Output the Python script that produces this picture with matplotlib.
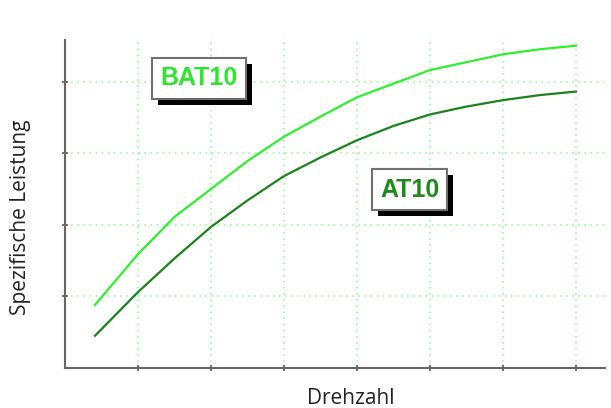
import matplotlib
matplotlib.use("Agg")
import matplotlib.pyplot as plt
import matplotlib.patheffects as pe

# Data
x_vals = [0.41, 1.0, 1.5, 2.0, 2.5, 3.0, 3.5, 4.0, 4.5, 5.0, 5.5, 6.0, 6.5, 7.0]
bat10 = [0.88, 1.59, 2.11, 2.50, 2.89, 3.23, 3.51, 3.78, 3.97, 4.16, 4.27, 4.38, 4.45, 4.50]
at10 = [0.45, 1.06, 1.53, 1.97, 2.34, 2.68, 2.94, 3.18, 3.38, 3.54, 3.65, 3.74, 3.81, 3.86]
x_ticks = [1, 2, 3, 4, 5, 6, 7]
y_ticks = [1, 2, 3, 4]
series_names = ["BAT10", "AT10"]
x_label = "Drehzahl"
y_label = "Spezifische Leistung"

fig = plt.figure(figsize=(6.11, 4.08), dpi=100)
ax = fig.add_axes([0.1064, 0.098, 0.884, 0.804])
ax.set_xlim(0, 7.4)
ax.set_ylim(0, 4.58)

ax.set_xticks(x_ticks)
ax.set_yticks(y_ticks)
ax.set_xticklabels([])
ax.set_yticklabels([])
ax.tick_params(direction='inout', length=5, width=1.2, color='#555555')
ax.grid(True, color='#7dff7d', linestyle=(0, (1, 3)), linewidth=1.1)
ax.set_axisbelow(True)

for s in ['top', 'right']:
    ax.spines[s].set_visible(False)
for s in ['left', 'bottom']:
    ax.spines[s].set_color('#666666')
    ax.spines[s].set_linewidth(1.5)

ax.plot(x_vals, bat10, color='#2ef02e', linewidth=1.6, solid_joinstyle='round')
ax.plot(x_vals, at10, color='#1c821c', linewidth=1.6, solid_joinstyle='round')

def label_box(txt, x, y, color):
    t = ax.text(x, y, txt, ha='center', va='center', fontsize=18,
                fontweight='bold', family='Liberation Sans', color=color,
                bbox=dict(boxstyle='square,pad=0.33', facecolor='white',
                          edgecolor='#707070', linewidth=1.5))
    t.get_bbox_patch().set_path_effects([
        pe.SimplePatchShadow(offset=(4.3, -4.3), shadow_rgbFace='black', alpha=1.0),
        pe.Normal()])
    return t

label_box(series_names[0], 1.84, 4.045, '#2ee62e')
label_box(series_names[1], 4.72, 2.49, '#1e8a1e')

lbl_font = dict(family='Open Sans', fontsize=15, color='#222222')
fig.text(351 / 611, 1 - 399 / 408, x_label, ha='center', va='center', **lbl_font)
fig.text(21 / 611, 1 - 217.5 / 408, y_label, ha='center', va='center', rotation=90, **lbl_font)

fig.savefig('out.png', dpi=100)
